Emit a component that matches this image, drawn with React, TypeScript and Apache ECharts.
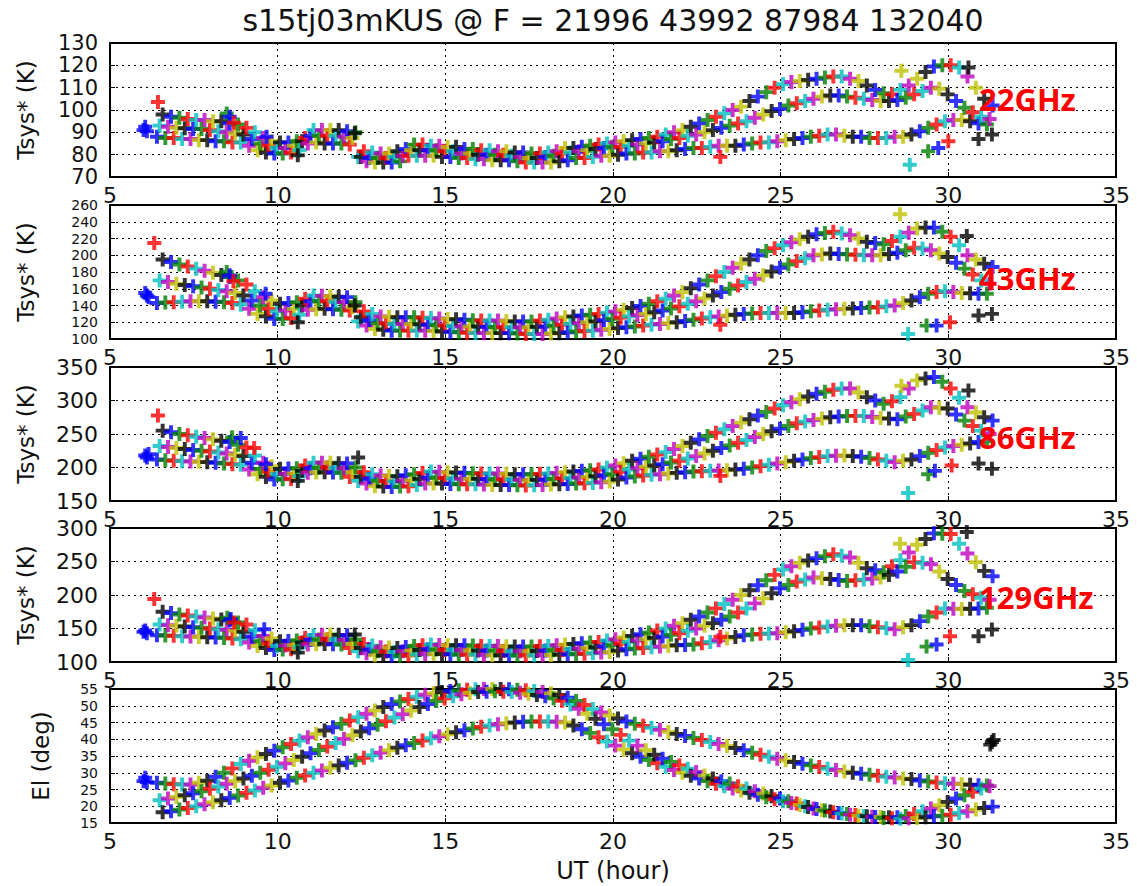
import React, { useEffect, useRef } from "react";
import * as echarts from "echarts";

const TITLE = "s15tj03mKUS @ F = 21996 43992 87984 132040";
const BAND_LABELS = ["22GHz", "43GHz", "86GHz", "129GHz"];
const Y_NAMES = ["Tsys* (K)", "Tsys* (K)", "Tsys* (K)", "Tsys* (K)", "El (deg)"];
const X_NAME = "UT (hour)";
// [min, max, interval] per panel
const Y_RANGES = [
  [70, 130, 10],
  [100, 260, 20],
  [150, 350, 50],
  [100, 300, 50],
  [15, 55, 5],
];
const X_RANGE = [5, 35, 5];

// scan times (UT hours) of the three sources
const hoursA = [
  6.40, 6.65, 6.90, 7.15, 7.40, 7.65, 7.90, 8.15, 8.40, 8.65,
  8.90, 9.15, 9.40, 9.65, 9.90, 10.15, 10.40, 10.65, 10.90, 11.15,
  11.40, 11.65, 11.90, 12.15, 12.40, 12.65, 12.90, 13.15, 13.40, 13.65,
  13.90, 14.15, 14.40, 14.65, 14.90, 15.15, 15.40, 15.65, 15.90, 16.15,
  16.40, 16.65, 16.90, 17.15, 17.40, 17.65, 17.90, 18.15, 18.40, 18.65,
  18.90, 19.15, 19.40, 19.65, 19.90, 20.15, 20.40, 20.65, 20.90, 21.15,
  21.40, 21.65, 21.90, 22.15, 22.40, 22.65, 22.90, 23.15, 23.40, 23.65,
  23.90, 24.15, 24.40, 24.65, 24.90, 25.15, 25.40, 25.65, 25.90, 26.15,
  26.40, 26.65, 26.90, 27.15, 27.40, 27.65, 27.90, 28.15, 28.40, 28.65,
  28.90, 29.15, 29.40, 29.65, 29.90, 30.15, 30.40, 30.65, 30.90, 31.15,
];
const hoursB = [
  6.48, 6.73, 6.98, 7.23, 7.48, 7.73, 7.98, 8.23, 8.48, 8.73,
  8.98, 9.23, 9.48, 9.73, 9.98, 10.23, 10.48, 10.73, 10.98, 11.23,
  11.48, 11.73, 11.98, 12.23, 12.48, 12.73, 12.98, 13.23, 13.48, 13.73,
  13.98, 14.23, 14.48, 14.73, 14.98, 15.23, 15.48, 15.73, 15.98, 16.23,
  16.48, 16.73, 16.98, 17.23, 17.48, 17.73, 17.98, 18.23, 18.48, 18.73,
  18.98, 19.23, 19.48, 19.73, 19.98, 20.23, 20.48, 20.73, 20.98, 21.23,
  21.48, 21.73, 21.98, 22.23, 22.48, 22.73, 22.98, 23.23, 23.48, 23.73,
  23.98, 24.23, 24.48, 24.73, 24.98, 25.23, 25.48, 25.73, 25.98, 26.23,
  26.48, 26.73, 26.98, 27.23, 27.48, 27.73, 27.98, 28.23, 28.48, 28.73,
  28.98, 29.23, 29.48, 29.73, 29.98, 30.23, 30.48, 30.73, 30.98, 31.23,
];
const hoursC = [
  6.57, 6.82, 7.07, 7.32, 7.57, 7.82, 8.07, 8.32, 8.57, 8.82,
  9.07, 9.32, 9.57, 9.82, 10.07, 10.32, 10.57, 10.82, 11.07, 11.32,
  11.57, 11.82, 12.07, 12.32, 12.57, 12.82, 13.07, 13.32, 13.57, 13.82,
  14.07, 14.32, 14.57, 14.82, 15.07, 15.32, 15.57, 15.82, 16.07, 16.32,
  16.57, 16.82, 17.07, 17.32, 17.57, 17.82, 18.07, 18.32, 18.57, 18.82,
  19.07, 19.32, 19.57, 19.82, 20.07, 20.32, 20.57, 20.82, 21.07, 21.32,
  21.57, 21.82, 22.07, 22.32, 22.57, 22.82, 23.07, 23.32, 23.57, 23.82,
  24.07, 24.32, 24.57, 24.82, 25.07, 25.32, 25.57, 25.82, 26.07, 26.32,
  26.57, 26.82, 27.07, 27.32, 27.57, 27.82, 28.07, 28.32, 28.57, 28.82,
  29.07, 29.32, 29.57, 29.82, 30.07, 30.32, 30.57, 30.82, 31.07, 31.32,
];

// 22 GHz Tsys* (K)
const t22A = [
  88, 87.5, 87.5, 87, 87, 86.5, 86.5, 86, 86, 85.5,
  85.5, 84, 82, 81, 80.5, 80.5, 81, 82, 85, 85.5,
  85, 85, 85, 84.5, 79, 77, 76.5, 76.5, 76.5, 77,
  79.5, 79.5, 79.5, 79.5, 79, 79, 78.5, 78.5, 78, 78,
  77.5, 77.5, 77.5, 77, 76.5, 76.5, 76.5, 76.5, 77, 77.5,
  78.5, 78.5, 79, 79.5, 79.5, 80, 80.5, 80.5, 81, 81,
  81.5, 81.5, 82, 82.5, 83, 83, 83.5, 84, 84, 84,
  84.5, 85, 85.5, 85.5, 86, 86.5, 87, 87.5, 88, 88.5,
  89, 89, 88.5, 88, 88, 87.5, 87.5, 87.5, 88, 88,
  89, 90.5, 92, 93.5, 95, 95.5, 95.5, 95, 94, 93.5,
];
const t22B = [
  93, 92.5, 92, 91.8, 91.5, 91.5, 91, 90.5, 90, 89.5,
  89, 87, 85, 84, 83, 83, 84, 86, 88.5, 88.5,
  88.5, 88.5, 88, 87.5, 79, 78.5, 78.5, 78.5, 79, 79.5,
  82, 82, 82, 82, 81.5, 81.5, 80.5, 80.5, 80, 80,
  80, 80, 79.5, 79, 78.5, 78.5, 79, 79.5, 80.5, 81,
  81.5, 82, 82.5, 83, 83.5, 83.5, 84, 84.5, 85, 85.5,
  86, 87, 87.5, 88.5, 89, 90, 91, 92, 93, 94,
  95, 96.5, 98, 99.5, 100.5, 102, 103, 104, 105, 106,
  106.5, 106.5, 106, 105.5, 105, 104.5, 104, 104, 104.5, 105.5,
  107, 108.5, 110, 109.5, 107, 104, 101, 99, 97, 96,
];
const t22C = [
  98, 97, 96.5, 96, 95.5, 95.5, 95, 95, 94, 93.5,
  92, 90, 87.5, 86, 85.5, 85.5, 86, 87.5, 91, 91,
  91, 91, 90.5, 90, 81.5, 81, 80.5, 80.5, 81.5, 82.5,
  84.5, 84.5, 84, 84, 83.5, 83.5, 82.5, 82.5, 82, 82,
  81.5, 81.5, 81, 81, 80.5, 80.5, 81, 81.5, 83, 83,
  83.5, 84, 84.5, 85, 85.5, 86, 86.5, 87, 87.5, 88,
  89, 90, 91, 92.5, 94, 95.5, 97, 98.5, 100, 101.5,
  104, 106, 108, 110, 111.5, 112.5, 113, 113.5, 114, 114.5,
  115, 115, 114, 113, 111, 109, 107.5, 107, 109, 111,
  114, 117, 119.5, 120, 120, 119, 115, 110, 105, 102,
];
// 43 GHz Tsys* (K)
const t43A = [
  143, 143.5, 144, 144.5, 145, 145, 145, 144.5, 144, 143,
  141, 136, 130, 127, 124, 124, 125, 129, 135, 135.5,
  136, 135.5, 135, 134, 121, 116, 112, 111, 110, 110,
  110, 110, 110, 109.5, 109, 108.5, 108, 107.5, 107, 107,
  107, 107, 107, 106.5, 106, 106, 106, 106.5, 107, 108,
  109, 109.5, 110, 111, 112, 113, 114, 115, 116, 117,
  118, 119, 120, 121.5, 123, 124.5, 126, 127, 128, 129,
  130, 130.5, 131, 131, 131, 131, 131, 132, 133, 134,
  135, 135.5, 136, 136.5, 137, 137.5, 138, 139, 140, 143,
  146, 150, 154, 156, 157, 156, 155, 154.5, 154, 154,
];
const t43B = [
  170, 168, 166, 164.5, 163, 161.5, 160, 158.5, 157, 155,
  152, 146, 140, 136, 133, 134, 136, 140, 145, 145,
  145, 144.5, 144, 138, 126, 122, 119, 118.5, 118, 118,
  118, 117.5, 117, 116.5, 116, 115.5, 115, 115, 115, 114.5,
  114, 114, 114, 114, 114, 114.5, 115, 116, 117, 118,
  119, 120, 121, 122.5, 124, 125.5, 127, 128.5, 130, 132,
  134, 136.5, 139, 142, 145, 148.5, 152, 156, 160, 164,
  168, 172, 176, 180.5, 185, 189, 193, 196.5, 200, 201,
  202, 201.5, 201, 200.5, 200, 200, 200, 201.5, 203, 206,
  209, 208, 206, 202, 198, 191, 184, 177, 170, 166,
];
const t43C = [
  195, 192, 189, 186.5, 184, 181.5, 179, 176.5, 174, 170,
  165, 157, 150, 146, 142, 143, 144, 148, 152, 151.5,
  151, 150.5, 150, 144, 133, 130, 127, 126.5, 126, 126,
  126, 125.5, 125, 124.5, 124, 123.5, 123, 122.5, 122, 122,
  122, 121.5, 121, 121, 121, 122, 123, 124.5, 126, 127,
  128, 129, 130, 131.5, 133, 135, 137, 139.5, 142, 145,
  148, 152, 156, 160.5, 165, 170, 175, 180, 185, 190,
  195, 200, 205, 208.5, 212, 215.5, 219, 222, 225, 226.5,
  228, 226, 224, 220, 216, 214.5, 213, 217, 222, 227,
  232, 233, 233, 228, 222, 212, 200, 195, 190, 186,
];
// 86 GHz Tsys* (K)
const t86A = [
  212, 211, 210, 209.5, 209, 208.5, 208, 207, 206, 205,
  204, 197, 190, 186, 182, 182.5, 183, 187, 192, 192.5,
  193, 192.5, 192, 186, 180, 176, 172, 171.5, 171, 171.5,
  172, 174, 176, 176, 176, 175.5, 175, 175, 175, 174.5,
  174, 174, 174, 173.5, 173, 173.5, 174, 174.5, 175, 175.5,
  176, 176.5, 177, 178, 179, 182, 185, 186.5, 188, 189,
  190, 191, 192, 193, 194, 194.5, 195, 195.5, 196, 197,
  198, 200, 202, 204, 206, 208, 210, 212, 214, 215.5,
  217, 217.5, 218, 217, 216, 214, 212, 210, 208, 210,
  212, 217, 222, 226, 230, 232, 234, 236, 238, 239,
];
const t86B = [
  232, 230.5, 229, 227.5, 226, 225, 224, 222.5, 221, 219,
  217, 207, 198, 194, 190, 190.5, 191, 195, 199, 199.5,
  200, 199.5, 199, 193, 186, 183, 180, 179.5, 179, 180,
  181, 183, 185, 184.5, 184, 183.5, 183, 183, 183, 182.5,
  182, 182, 182, 181.5, 181, 181.5, 182, 183, 184, 184.5,
  185, 186, 187, 188.5, 190, 193.5, 197, 199, 201, 203,
  205, 207.5, 210, 213.5, 217, 221, 225, 229, 233, 237,
  241, 245.5, 250, 254, 258, 262, 266, 268.5, 271, 273,
  275, 276, 277, 277, 277, 275.5, 274, 273, 272, 276,
  280, 285, 290, 289, 288, 279, 270, 262, 255, 250,
];
const t86C = [
  255, 252.5, 250, 248, 246, 244, 242, 240, 238, 234,
  230, 218, 207, 202, 198, 198.5, 199, 203, 207, 207,
  207, 206.5, 206, 200, 193, 190, 188, 187.5, 187, 188.5,
  190, 192, 194, 193.5, 193, 192.5, 192, 191.5, 191, 191,
  191, 190.5, 190, 190, 190, 190.5, 191, 192, 193, 194,
  195, 196, 197, 200, 203, 206.5, 210, 213, 216, 219.5,
  223, 227.5, 232, 237, 242, 247, 252, 257, 262, 267,
  272, 277.5, 283, 288, 293, 297.5, 302, 306, 310, 313,
  316, 318, 318, 312, 305, 300, 295, 299, 305, 318,
  330, 333, 335, 328, 318, 304, 290, 282, 275, 270,
];
// 129 GHz Tsys* (K)
const t129A = [
  140, 139.5, 139, 138.5, 138, 137.5, 137, 136.5, 136, 135,
  134, 129, 124, 121, 118, 118.5, 119, 122, 126, 126.5,
  127, 126.5, 126, 121, 116, 113, 110, 109.5, 109, 109.5,
  110, 111, 112, 112, 112, 111.5, 111, 111, 111, 110.5,
  110, 110, 110, 110, 110, 110, 110, 110.5, 111, 111.5,
  112, 112.5, 113, 114, 115, 117, 119, 120, 121, 122,
  123, 124, 125, 125.5, 126, 128, 130, 132.5, 135, 137.5,
  140, 141, 142, 142.5, 143, 144.5, 146, 148, 150, 151.5,
  153, 154, 155, 155, 155, 153.5, 152, 150.5, 149, 152,
  155, 161, 168, 174, 180, 179.5, 179, 179.5, 180, 181,
];
const t129B = [
  156, 155, 154, 153, 152, 151, 150, 149, 148, 146.5,
  145, 138, 131, 127.5, 124, 124.5, 125, 129, 133, 133.5,
  134, 133.5, 133, 127, 121, 118.5, 116, 115.5, 115, 116,
  117, 118, 119, 118.5, 118, 118, 118, 117.5, 117, 117,
  117, 116.5, 116, 116, 116, 116.5, 117, 117.5, 118, 119,
  120, 121, 122, 123.5, 125, 127.5, 130, 132, 134, 136,
  138, 140.5, 143, 146.5, 150, 154, 158, 163, 168, 174,
  180, 187.5, 195, 202.5, 210, 215, 220, 223, 226, 225,
  224, 222.5, 221, 222, 223, 224.5, 226, 230, 235, 242,
  249, 248, 246, 235, 224, 215, 206, 201, 196, 193,
];
const t129C = [
  175, 173, 171, 169.5, 168, 166.5, 165, 163.5, 162, 159,
  156, 147.5, 139, 135, 131, 131.5, 132, 136, 140, 140.5,
  141, 140.5, 140, 133.5, 127, 124.5, 122, 121.5, 121, 122.5,
  124, 125, 126, 125.5, 125, 125, 125, 124.5, 124, 124,
  124, 123.5, 123, 123, 123, 123.5, 124, 125, 126, 127,
  128, 129, 130, 132, 134, 136.5, 139, 141.5, 144, 147,
  150, 154, 158, 163, 168, 174, 180, 186.5, 193, 200,
  207, 214.5, 222, 230, 238, 243, 248, 251.5, 255, 258,
  261, 258.5, 256, 248, 240, 237, 234, 243, 252, 263.5,
  275, 283.5, 292, 291.5, 291, 276.5, 262, 249, 236, 228,
];
// Elevation (deg)
const elA = [
  27, 26.8, 26.6, 26.5, 26.5, 27, 27.6, 28.8, 30, 31.3,
  32.6, 33.6, 34.6, 35.6, 36.6, 37.6, 38.6, 39.6, 40.6, 41.6,
  42.6, 43.6, 44.6, 45.6, 46.6, 47.6, 48.6, 49.6, 50.5, 51.3,
  52, 52.7, 53.3, 53.7, 54.1, 54.4, 54.6, 54.8, 54.9, 55,
  55, 55, 54.9, 54.8, 54.6, 54.4, 54.1, 53.7, 53.2, 52.4,
  51.4, 50.2, 49, 48, 47.1, 46.2, 45.3, 44.6, 44, 43.4,
  42.8, 42.2, 41.6, 41, 40.4, 39.8, 39.2, 38.6, 38, 37.4,
  36.7, 36, 35.4, 34.8, 34.2, 33.7, 33.2, 32.7, 32.2, 31.7,
  31.2, 30.8, 30.4, 30, 29.7, 29.4, 29.1, 28.8, 28.6, 28.3,
  28.1, 27.7, 27.4, 27.1, 26.9, 26.7, 26.6, 26.4, 26.3, 26.2,
];
const elB = [
  21.8, 22.3, 22.8, 23.3, 23.9, 24.5, 25.2, 25.9, 26.7, 27.5,
  28.3, 29.1, 30, 30.9, 31.8, 32.8, 33.8, 34.8, 35.8, 36.8,
  37.8, 38.9, 40.1, 41.2, 42.3, 43.3, 44.3, 45.4, 46.5, 47.5,
  48.6, 49.6, 50.5, 51.4, 52.2, 52.8, 53.4, 53.8, 54.1, 54.2,
  54.3, 54.2, 54.1, 53.9, 53.6, 53.2, 52.8, 52.2, 51.5, 50.4,
  49.1, 47.6, 46.1, 44.5, 43, 41.3, 39.6, 38.1, 36.7, 35.4,
  34.2, 33.2, 32.2, 31.2, 30.2, 29.2, 28.3, 27.5, 26.8, 26,
  25.3, 24.5, 23.8, 23, 22.3, 21.5, 20.8, 20, 19.3, 18.8,
  18.4, 18, 17.7, 17.4, 17.1, 16.9, 16.8, 16.7, 16.7, 17.1,
  17.7, 18.5, 19.3, 20.3, 21.3, 22.3, 23.3, 24.3, 25.3, 26,
];
const elC = [
  18.2, 18.5, 19, 19.5, 20, 20.6, 21.2, 21.8, 22.5, 23.2,
  24, 24.7, 25.5, 26.2, 27, 27.7, 28.5, 29.2, 30, 30.7,
  31.5, 32.2, 33, 33.7, 34.5, 35.2, 36, 36.7, 37.5, 38.2,
  38.9, 39.6, 40.3, 40.9, 41.5, 42.1, 42.7, 43.2, 43.7, 44.1,
  44.5, 44.8, 45, 45.2, 45.3, 45.3, 45.3, 45.2, 45, 44.1,
  43, 41.9, 40.6, 39.3, 38.1, 36.9, 35.8, 34.8, 33.8, 32.8,
  31.8, 30.8, 30, 29.1, 28.3, 27.5, 26.7, 26, 25.3, 24.7,
  24, 23.4, 22.7, 22.1, 21.5, 21, 20.4, 19.8, 19.2, 18.7,
  18.2, 17.8, 17.5, 17.2, 17, 16.8, 16.5, 16.4, 16.3, 16.4,
  16.5, 16.7, 17, 17.2, 17.5, 18, 18.5, 19, 19.5, 19.9,
];

// isolated scans: [hour, value, matplotlib colour code]
const out22 = [[6.0, 91, "b"], [6.05, 92.5, "b"], [6.1, 90.5, "b"], [6.43, 103.6, "r"], [8.48, 98.4, "g"], [8.57, 97, "b"], [8.69, 94.3, "r"], [9.67, 88, "b"], [10.6, 79.7, "k"], [12.3, 89.6, "k"], [23.2, 79, "r"], [28.6, 117.6, "y"], [28.85, 75.5, "c"], [29.4, 81.5, "g"], [29.7, 83, "b"], [30.0, 86, "r"], [30.9, 87, "k"], [31.3, 89, "k"], [30.6, 119, "k"]];
const out43 = [[6.05, 155, "b"], [6.1, 152, "b"], [6.15, 150, "b"], [6.32, 214.6, "r"], [8.48, 180, "g"], [8.57, 176, "b"], [8.68, 169, "r"], [9.64, 154, "b"], [10.6, 120, "k"], [12.3, 140, "k"], [23.2, 117, "r"], [28.56, 249, "y"], [28.8, 106, "c"], [29.35, 116, "g"], [29.65, 116, "b"], [30.05, 120, "r"], [30.9, 128, "k"], [31.3, 130, "k"], [30.55, 223, "k"]];
const out86 = [[6.05, 218, "b"], [6.1, 215, "b"], [6.15, 220, "b"], [6.43, 277.5, "r"], [8.64, 245, "g"], [8.9, 244, "b"], [9.3, 229, "r"], [9.65, 205, "b"], [10.6, 180, "k"], [12.4, 215, "k"], [23.2, 187.5, "r"], [28.6, 322, "y"], [28.8, 162, "c"], [29.4, 190, "g"], [29.6, 195, "b"], [30.1, 203, "r"], [30.9, 206, "k"], [31.3, 198, "k"], [30.6, 315, "k"]];
const out129 = [[6.0, 145, "b"], [6.05, 147, "b"], [6.1, 143, "b"], [6.32, 194, "r"], [8.5, 166, "g"], [8.6, 164, "b"], [8.7, 159, "r"], [9.6, 149, "b"], [10.6, 114, "k"], [12.3, 141, "k"], [23.2, 137.6, "r"], [28.56, 276.6, "y"], [28.8, 103, "c"], [29.35, 123, "g"], [29.65, 126, "b"], [30.05, 138.5, "r"], [30.9, 138.5, "k"], [31.3, 148.5, "k"], [30.55, 294, "k"]];
const outEl = [[6.0, 27.5, "b"], [6.05, 28.5, "b"], [6.1, 27.2, "b"], [31.25, 38.4, "k"], [31.3, 39.2, "k"], [31.35, 39.8, "k"]];

const PANELS = [
  { tracks: [t22A, t22B, t22C], extra: out22 },
  { tracks: [t43A, t43B, t43C], extra: out43 },
  { tracks: [t86A, t86B, t86C], extra: out86 },
  { tracks: [t129A, t129B, t129C], extra: out129 },
  { tracks: [elA, elB, elC], extra: outEl },
];
const TRACK_HOURS = [hoursA, hoursB, hoursC];

const COLOR_CODES: Record<string, string> = {
  b: "#0000ff",
  g: "#008000",
  r: "#ff0000",
  c: "#00bfbf",
  m: "#bf00bf",
  y: "#bfbf00",
  k: "#000000",
};
const CYCLE = ["b", "g", "r", "c", "m", "y", "k"];
const PLUS = "path://M36,0H64V36H100V64H64V100H36V64H0V36H36Z";

const GRID_LEFT = 110;
const GRID_WIDTH = 1006;
const GRID_TOPS = [43, 205, 367, 528, 689];
const GRID_HEIGHT = 134;
const Y_LABEL_SIZES = [21, 14, 22, 22, 14];
const FONT = "DejaVu Sans";

function buildOption() {
  const grid: any[] = [];
  const xAxis: any[] = [];
  const yAxis: any[] = [];
  const series: any[] = [];
  PANELS.forEach((p, i) => {
    grid.push({
      left: GRID_LEFT,
      top: GRID_TOPS[i],
      width: GRID_WIDTH,
      height: GRID_HEIGHT,
      show: true,
      borderColor: "#000",
      borderWidth: 2,
      backgroundColor: "transparent",
    });
    xAxis.push({
      type: "value",
      gridIndex: i,
      min: X_RANGE[0],
      max: X_RANGE[1],
      interval: X_RANGE[2],
      axisLine: { show: false },
      axisTick: { show: true, inside: true, length: 5, lineStyle: { color: "#000" } },
      axisLabel: {
        fontSize: 22,
        fontFamily: FONT,
        color: "#111",
        margin: 7,
        showMinLabel: true,
        showMaxLabel: true,
        hideOverlap: false,
      },
      splitLine: { show: true, lineStyle: { color: "#000", type: [2, 4], width: 1 } },
      name: i === PANELS.length - 1 ? X_NAME : "",
      nameLocation: "middle",
      nameGap: 36,
      nameTextStyle: { fontSize: 24, fontFamily: FONT, color: "#111" },
    });
    const [mn, mx, iv] = Y_RANGES[i];
    yAxis.push({
      type: "value",
      gridIndex: i,
      min: mn,
      max: mx,
      interval: iv,
      axisLine: { show: false },
      axisTick: { show: true, inside: true, length: 5, lineStyle: { color: "#000" } },
      axisLabel: {
        fontSize: Y_LABEL_SIZES[i],
        lineHeight: Y_LABEL_SIZES[i],
        fontFamily: FONT,
        color: "#111",
        margin: 12,
        showMinLabel: true,
        showMaxLabel: true,
        hideOverlap: false,
      },
      splitLine: { show: true, lineStyle: { color: "#000", type: [2, 4], width: 1 } },
      name: Y_NAMES[i],
      nameLocation: "middle",
      nameGap: i === 4 ? 58 : 73,
      nameTextStyle: { fontSize: 23, fontFamily: FONT, color: "#111" },
    });
    const pts: any[] = [];
    p.tracks.forEach((vals, t) => {
      const hrs = TRACK_HOURS[t];
      vals.forEach((v, k) => {
        pts.push({
          value: [hrs[k], v],
          itemStyle: { color: COLOR_CODES[CYCLE[(k + t * 3) % 7]] },
        });
      });
    });
    pts.sort((a, b) => a.value[0] - b.value[0]);
    series.push({
      type: "scatter",
      xAxisIndex: i,
      yAxisIndex: i,
      symbol: PLUS,
      symbolSize: 14,
      clip: true,
      data: pts,
      z: 3,
    });
    series.push({
      type: "scatter",
      xAxisIndex: i,
      yAxisIndex: i,
      symbol: PLUS,
      symbolSize: 14,
      clip: true,
      z: 4,
      data: p.extra.map((e: any) => ({ value: [e[0], e[1]], itemStyle: { color: COLOR_CODES[e[2]] } })),
    });
  });

  const labelY = [99, 278, 437, 597];
  const graphic = BAND_LABELS.map((t, i) => ({
    type: "text",
    x: 979,
    y: labelY[i],
    z: 100,
    style: {
      text: t,
      fill: "#ff0000",
      font: 'bold 31px "Noto Sans"',
      textAlign: "left",
      textVerticalAlign: "middle",
    },
  }));

  return {
    animation: false,
    backgroundColor: "#fff",
    title: {
      text: TITLE,
      left: GRID_LEFT + GRID_WIDTH / 2,
      top: 5,
      padding: 0,
      textAlign: "center",
      textStyle: { fontFamily: FONT, fontSize: 30, fontWeight: "normal", color: "#111" },
    },
    grid,
    xAxis,
    yAxis,
    series,
    graphic,
  };
}

export default function App() {
  const ref = useRef<HTMLDivElement>(null);
  useEffect(() => {
    if (!ref.current) return;
    const chart = echarts.init(ref.current, undefined, { renderer: "svg" });
    chart.setOption(buildOption() as any);
    return () => chart.dispose();
  }, []);
  return (
    <div
      ref={ref}
      style={{ position: "fixed", left: 0, top: 0, width: 1137, height: 886, background: "#fff" }}
    />
  );
}
